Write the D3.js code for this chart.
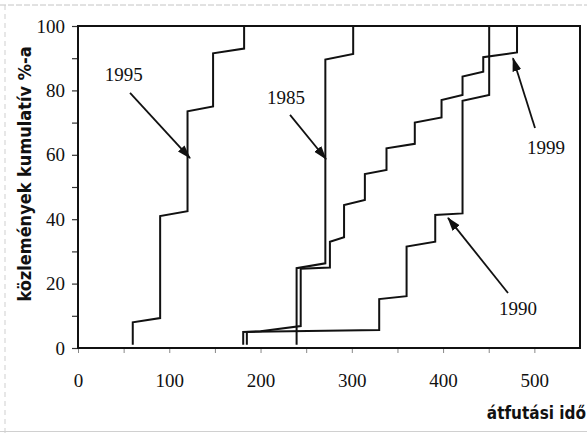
<!DOCTYPE html>
<html>
<head>
<meta charset="utf-8">
<script src="https://cdn.jsdelivr.net/npm/d3@7/dist/d3.min.js"></script>
<style>
  html, body { margin: 0; padding: 0; background: #fff; }
  svg { display: block; }
</style>
</head>
<body>
<svg id="chart" width="587" height="433"></svg>
<script>
// Cumulative share of publications vs. processing time, one step curve per year.
// Each series is stored as its polyline vertices (time, cumulative %).
const s1995x = [60, 60, 90, 90, 120, 120, 148, 148, 182, 182];
const s1995y = [1, 8, 9.3, 41, 42.5, 73.5, 75, 91.5, 93, 100];

const s1985x = [239.5, 239.5, 271, 271, 301.5, 301.5];
const s1985y = [1, 24.8, 26.3, 89.6, 91.3, 100];

const s1990x = [185, 185, 330, 330, 360, 360, 391.4, 391.4, 421.3, 421.3, 450.5, 450.5];
const s1990y = [1, 5, 5.6, 15.2, 16.1, 31.5, 33, 41.3, 41.8, 76.8, 78.6, 100];

const s1999x = [181, 181, 200, 244, 244, 276, 276, 291.5, 291.5, 314.3, 314.3, 338, 338,
                369, 369, 398.3, 398.3, 421.3, 421.3, 444, 444, 481, 481];
const s1999y = [1, 5, 5.2, 6.8, 24.6, 25, 33, 34.4, 44.4, 46, 54, 55.3, 62,
                63.4, 70, 71.6, 77, 78.6, 84.3, 85.8, 90.3, 91.8, 100];

// Axis ticks (labels every 20 / 100, unlabeled minor ticks between)
const yTicks = [0, 10, 20, 30, 40, 50, 60, 70, 80, 90, 100];
const yTickLabels = ["0", "", "20", "", "40", "", "60", "", "80", "", "100"];
const xTicks = [0, 50, 100, 150, 200, 250, 300, 350, 400, 450, 500];
const xTickLabels = ["0", "", "100", "", "200", "", "300", "", "400", "", "500"];

// Year call-outs: label position and arrow from -> to, in data units
const noteYears = ["1995", "1985", "1999", "1990"];
const noteLabelX = [50.2, 227.9, 512.8, 482];
const noteLabelY = [84.8, 77.9, 62.4, 12.4];
const noteFromX = [57, 232.3, 500.7, 471.1];
const noteFromY = [79.2, 72.4, 68.3, 17.1];
const noteToX = [122.7, 271.7, 476.6, 405.4];
const noteToY = [59, 58.7, 90, 40.4];

const svg = d3.select("#chart");
const x = d3.scaleLinear().domain([0, 550]).range([78, 580]);
const y = d3.scaleLinear().domain([0, 100]).range([348, 26]);

const serif = "'Liberation Serif', 'Times New Roman', serif";
const narrow = "'Liberation Sans Narrow', 'DejaVu Sans Condensed', 'Liberation Sans', sans-serif";

// faint page edges
svg.append("line").attr("x1", 0).attr("x2", 587).attr("y1", 5).attr("y2", 5)
  .attr("stroke", "#c4c4c4").attr("stroke-width", 1).attr("stroke-dasharray", "6 2");
svg.append("line").attr("x1", 5).attr("x2", 5).attr("y1", 5).attr("y2", 433)
  .attr("stroke", "#cfcfcf").attr("stroke-width", 1).attr("stroke-dasharray", "5 4");
svg.append("line").attr("x1", 0).attr("x2", 587).attr("y1", 431.5).attr("y2", 431.5)
  .attr("stroke", "#d0d0d0").attr("stroke-width", 1);

// y axis
const yAxis = svg.append("g").attr("transform", `translate(${x(0)},0)`)
  .call(d3.axisLeft(y).tickValues(yTicks).tickSize(6).tickPadding(7)
    .tickFormat((d, i) => yTickLabels[i]));
yAxis.select(".domain").remove();
yAxis.selectAll(".tick line").attr("stroke", "#333").attr("stroke-width", 1.2);
yAxis.selectAll("text").attr("font-family", serif).attr("font-size", 19).attr("fill", "#111");

// x axis
const xAxis = svg.append("g").attr("transform", `translate(0,${y(0)})`)
  .call(d3.axisBottom(x).tickValues(xTicks).tickSize(5).tickPadding(21)
    .tickFormat((d, i) => xTickLabels[i]));
xAxis.select(".domain").remove();
xAxis.selectAll(".tick line").attr("stroke", "#888").attr("stroke-width", 1);
xAxis.selectAll("text").attr("font-family", serif).attr("font-size", 19).attr("fill", "#111");

// plot frame
svg.append("rect")
  .attr("x", x(0)).attr("y", y(100))
  .attr("width", x(550) - x(0)).attr("height", y(0) - y(100))
  .attr("fill", "none").attr("stroke", "#111").attr("stroke-width", 2);

// step curves
const line = d3.line().x(d => x(d[0])).y(d => y(d[1]));
const series = [[s1995x, s1995y], [s1985x, s1985y], [s1990x, s1990y], [s1999x, s1999y]];
series.forEach(([xs, ys]) => {
  svg.append("path")
    .datum(xs.map((v, i) => [v, ys[i]]))
    .attr("d", line)
    .attr("fill", "none")
    .attr("stroke", "#111")
    .attr("stroke-width", 2)
    .attr("stroke-linejoin", "miter");
});

// arrowhead
svg.append("defs").append("marker")
  .attr("id", "arrow")
  .attr("markerUnits", "userSpaceOnUse")
  .attr("viewBox", "0 0 14 10")
  .attr("refX", 13).attr("refY", 5)
  .attr("markerWidth", 14).attr("markerHeight", 10)
  .attr("orient", "auto")
  .append("path").attr("d", "M0,0.5 L14,5 L0,9.5 Z").attr("fill", "#111");

noteYears.forEach((t, i) => {
  svg.append("line")
    .attr("x1", x(noteFromX[i])).attr("y1", y(noteFromY[i]))
    .attr("x2", x(noteToX[i])).attr("y2", y(noteToY[i]))
    .attr("stroke", "#111").attr("stroke-width", 1.8)
    .attr("marker-end", "url(#arrow)");
  svg.append("text")
    .attr("x", x(noteLabelX[i])).attr("y", y(noteLabelY[i]))
    .attr("text-anchor", "middle").attr("dominant-baseline", "central")
    .attr("font-family", serif).attr("font-size", 19).attr("fill", "#111")
    .text(t);
});

// axis titles
svg.append("text")
  .attr("transform", "translate(31,174) rotate(-90)")
  .attr("text-anchor", "middle")
  .attr("font-family", narrow).attr("font-weight", "bold").attr("font-size", 18)
  .attr("fill", "#111")
  .text("közlemények kumulatív %-a");

svg.append("text")
  .attr("x", 586).attr("y", 419)
  .attr("text-anchor", "end")
  .attr("font-family", narrow).attr("font-weight", "bold").attr("font-size", 17)
  .attr("fill", "#111")
  .text("átfutási idő");
</script>
</body>
</html>
